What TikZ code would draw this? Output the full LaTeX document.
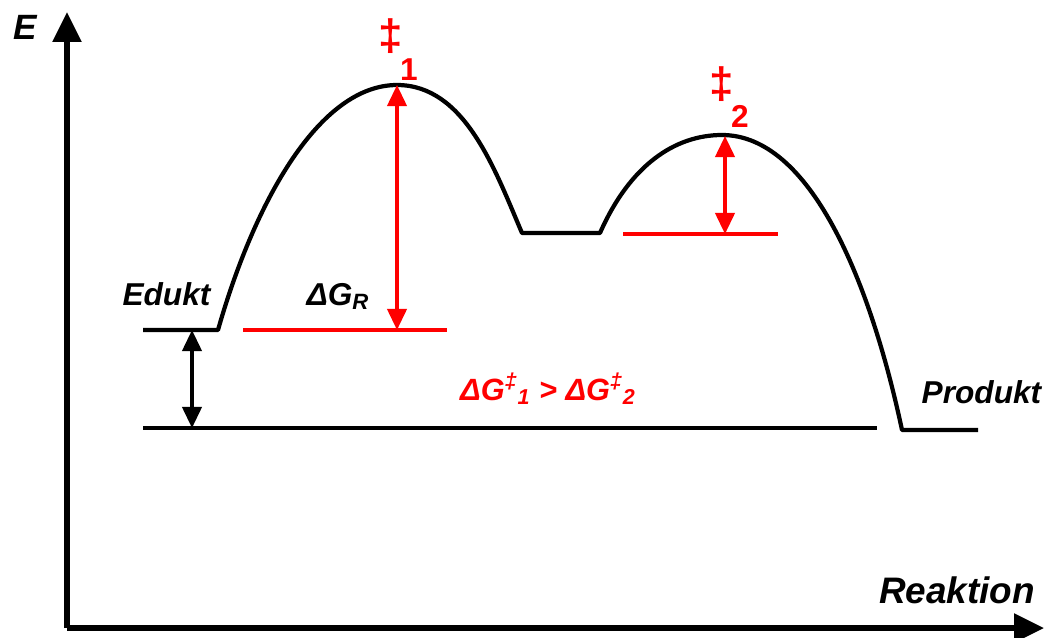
\documentclass[tikz,border=0pt]{standalone}
\usepackage{fontspec}
\setmainfont{Liberation Sans}
\usetikzlibrary{arrows.meta}
\definecolor{eRed}{RGB}{255,0,0}
\newcommand{\eText}[1]{\textbf{\textit{#1}}}

\begin{document}
\begin{tikzpicture}[x=0.02cm,y=-0.02cm,
  eAxis/.style={line width=2.9pt,-{Triangle[length=17pt,width=16pt]}},
  eCurve/.style={line width=2.4pt,line join=round},
  eLevel/.style={line width=2.2pt},
  eRedLevel/.style={line width=2.3pt,eRed},
  eGap/.style={line width=1.8pt,{Triangle[length=12pt,width=11pt]}-{Triangle[length=12pt,width=11pt]}},
  eLbl/.style={anchor=base,inner sep=0pt,font=\fontsize{18pt}{20pt}\selectfont}]
\useasboundingbox (0,0) rectangle (1048,637);
% axes
\coordinate (origin) at (67,628);
\coordinate (yTip) at (67,12);
\coordinate (xTip) at (1044,628);
\draw[eAxis] (origin) -- (yTip);
\draw[eAxis] (origin) -- (xTip);
\node[eLbl,font=\fontsize{20pt}{22pt}\selectfont] (eE) at (26,39) {\eText{E}};
\node[eLbl,font=\fontsize{21pt}{23pt}\selectfont] (eReak) at (957,603) {\eText{Reaktion}};
% levels
\coordinate (edL) at (143,330);
\coordinate (edR) at (218,330);
\coordinate (ts1) at (397,85);
\coordinate (imL) at (522,233);
\coordinate (imR) at (600,233);
\coordinate (ts2) at (722,135);
\coordinate (prL) at (902,430);
\coordinate (prR) at (978,430);
\draw[eCurve] (edL) -- (edR)
  .. controls (255,200) and (320,85) .. (ts1)
  .. controls (465,85) and (495,170) .. (imL) -- (imR)
  .. controls (630,165) and (675,135) .. (ts2)
  .. controls (810,135) and (870,280) .. (prL) -- (prR);
\coordinate (baseL) at (143,428);
\coordinate (baseR) at (877,428);
\draw[eLevel] (baseL) -- (baseR);
\coordinate (gapTop) at (192,330);
\coordinate (gapBot) at (192,428);
\draw[eGap] (gapTop) -- (gapBot);
% activation barriers
\coordinate (r1L) at (243,330);
\coordinate (r1R) at (447,330);
\coordinate (r1M) at (397,330);
\draw[eRedLevel] (r1L) -- (r1R);
\draw[eGap,eRed] (ts1) -- (r1M);
\coordinate (r2L) at (623,234);
\coordinate (r2R) at (778,234);
\coordinate (r2M) at (725,234);
\coordinate (ts2r) at (725,136);
\draw[eRedLevel] (r2L) -- (r2R);
\draw[eGap,eRed] (ts2r) -- (r2M);
% labels
\node[eLbl,text=eRed,font=\fontsize{25pt}{27pt}\selectfont] (dag1) at (391,50) {\textbf{‡}};
\node[eLbl,text=eRed] (sub1) at (409,80) {\textbf{1}};
\node[eLbl,text=eRed,font=\fontsize{25pt}{27pt}\selectfont] (dag2) at (722,98) {\textbf{‡}};
\node[eLbl,text=eRed] (sub2) at (740,127) {\textbf{2}};
\node[eLbl] (edukt) at (167,305) {\eText{Edukt}};
\node[eLbl] (produkt) at (982,403) {\eText{Produkt}};
\node[eLbl] (dGR) at (338,305) {\eText{ΔG\textsubscript{R}}};
\node[eLbl,text=eRed,font=\fontsize{17.5pt}{19pt}\selectfont] (dGcmp) at (548,400)
  {\eText{ΔG\textsuperscript{‡}\textsubscript{1} > ΔG\textsuperscript{‡}\textsubscript{2}}};
\end{tikzpicture}
\end{document}
